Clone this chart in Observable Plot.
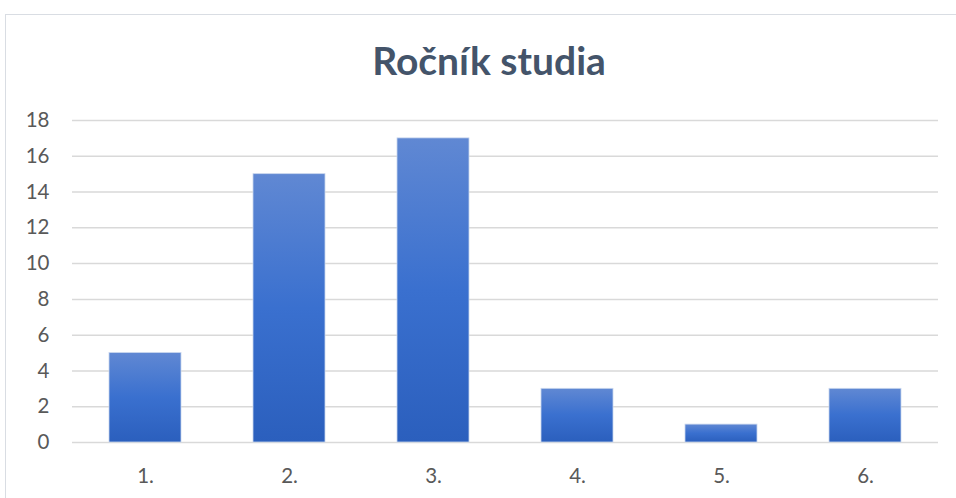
<!DOCTYPE html>
<html>
<head>
<meta charset="utf-8">
<script src="https://cdn.jsdelivr.net/npm/d3@7"></script>
<script src="https://cdn.jsdelivr.net/npm/@observablehq/plot@0.6"></script>
<style>
  html, body { margin: 0; padding: 0; background: #fff; overflow: hidden; }
  #wrap { position: relative; width: 956px; height: 498px; font-family: Lato, "Open Sans", sans-serif; }
  #frame { position: absolute; left: 5px; top: 14px; width: 960px; height: 500px; border: 1.5px solid #d9dde3; box-sizing: border-box; }
  #title { position: absolute; left: 0; width: 978px; top: 37px; text-align: center; font-size: 39px; font-weight: bold; color: #44546a; font-family: Lato, sans-serif; }
  #chart { position: absolute; left: 0; top: 100px; }
  #chart svg text { font-size: 20.5px; fill: #595959; }
</style>
</head>
<body>
<div id="wrap">
  <div id="frame"></div>
  <div id="title">Ročník studia</div>
  <div id="chart"></div>
</div>
<script>
const categories = ["1.", "2.", "3.", "4.", "5.", "6."];
const values = [5, 15, 17, 3, 1, 3];
const yTicks = [0, 2, 4, 6, 8, 10, 12, 14, 16, 18];

const data = categories.map((c, i) => ({ cat: c, value: values[i] }));

const chart = Plot.plot({
  width: 956,
  height: 398,
  marginTop: 20,
  marginBottom: 56,
  marginLeft: 72,
  marginRight: 18,
  style: { fontFamily: "Lato, 'Open Sans', sans-serif", fontSize: "20.5px", color: "#595959", background: "transparent" },
  x: { domain: categories, paddingInner: 0.5, paddingOuter: 0.25, label: null, tickSize: 0, tickPadding: 26 },
  y: { domain: [0, 18], ticks: yTicks, label: null, tickSize: 0, tickPadding: 23 },
  marks: [
    () => {
      const ns = "http://www.w3.org/2000/svg";
      const defs = document.createElementNS(ns, "defs");
      defs.innerHTML = `<linearGradient id="barGrad" x1="0" y1="0" x2="0" y2="1">
        <stop offset="0" stop-color="#6088d3"/>
        <stop offset="0.5" stop-color="#3a70cf"/>
        <stop offset="1" stop-color="#2b5fbd"/>
      </linearGradient>`;
      return defs;
    },
    Plot.ruleY(yTicks, { stroke: "#d9d9d9", strokeWidth: 1.5 }),
    Plot.barY(data, { x: "cat", y: "value", fill: "url(#barGrad)", stroke: "#c9d6ee", strokeWidth: 0.8 }),
    Plot.axisY({ ticks: yTicks, tickSize: 0, tickPadding: 23, label: null }),
    Plot.axisX({ tickSize: 0, tickPadding: 26, label: null })
  ]
});
document.getElementById("chart").appendChild(chart);
</script>
</body>
</html>
